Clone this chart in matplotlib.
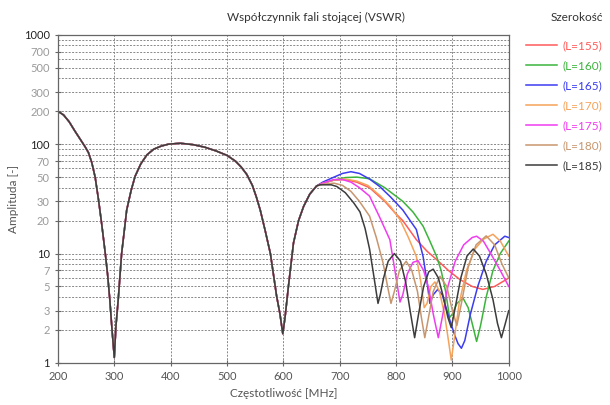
import matplotlib
matplotlib.use("Agg")
import matplotlib.pyplot as plt
import numpy as np

# common part (all widths overlap)
f_common = [200, 210, 220, 230, 240, 248, 254, 260, 266, 272, 278, 284, 288, 292, 296, 300, 303, 307,
            313, 317, 322, 330, 337, 347, 358, 370, 383, 396, 417, 440, 460, 480, 500, 515, 525, 535,
            545, 552, 559, 568, 577, 588, 594, 599, 603, 609, 618, 627, 636, 647, 659]
v_common = [200, 185, 160, 132, 110, 95, 84, 68, 50, 31, 18, 10, 6.5, 3.8, 2.0, 1.12, 2.2, 3.8,
            10, 15, 25, 38, 51, 66, 80, 90, 96, 100, 102, 99, 94, 87, 79, 70, 62, 53,
            42, 33, 25, 16, 10, 4.1, 2.8, 1.85, 2.6, 5, 12.5, 20, 27, 35, 41.5]

labels = ["(L=155)", "(L=160)", "(L=165)", "(L=170)", "(L=175)", "(L=180)", "(L=185)"]
colors = ["#ff5a5a", "#3cb43c", "#3c3cf0", "#f5a35a", "#f03cf0", "#c8966e", "#3c3c3c"]

f_155 = [670, 690, 710, 730, 753, 780, 800, 812, 836, 855, 872, 893, 913, 935, 954, 975, 996, 1000]
v_155 = [44, 47, 47.5, 45, 40, 30, 23, 20, 13.4, 10.5, 8.8, 7, 5.8, 5.0, 4.7, 5, 5.8, 6]

f_160 = [670, 690, 710, 730, 753, 780, 812, 830, 848, 860, 872, 880, 888, 895, 900, 908, 919, 928,
         936, 943, 950, 960, 972, 985, 1000]
v_160 = [44, 47, 49.5, 50, 48.3, 40, 30, 24, 17.8, 13, 9.4, 7, 4.5, 2.6, 2.8, 3.5, 3.9, 3.2,
         2.2, 1.57, 2.2, 4, 7, 10, 13]

f_165 = [670, 690, 705, 720, 735, 753, 771, 790, 812, 825, 836, 848, 855, 860, 866, 874, 882, 892,
         904, 910, 916, 922, 932, 945, 960, 975, 993, 1000]
v_165 = [45, 50, 54, 56, 54, 48, 41, 33, 25, 20, 16.6, 9.4, 5.5, 3.5, 4.2, 4.7, 4.2, 2.8,
         1.8, 1.5, 1.36, 1.6, 2.8, 5, 8.5, 12, 14.4, 14]

f_170 = [670, 690, 710, 730, 750, 771, 790, 807, 822, 836, 844, 850, 855, 862, 869, 877, 886, 893,
         898, 903, 912, 925, 940, 955, 972, 985, 1000]
v_170 = [44, 47, 48, 46, 42, 34, 27, 20.4, 14, 9.4, 5.5, 3.2, 3.5, 5, 5.5, 4.5, 2.8, 1.6,
         1.06, 1.6, 3.5, 7, 11, 13.5, 15, 13, 9.5]

f_175 = [670, 690, 705, 720, 735, 753, 770, 789, 798, 804, 807, 812, 820, 830, 839, 849, 858, 866,
         875, 882, 892, 905, 920, 935, 943, 955, 968, 985, 1000]
v_175 = [44, 47.5, 47.5, 45, 40, 33.5, 22, 13.4, 7, 4.5, 3.6, 4.2, 6.5, 8.3, 8.6, 7, 4.8, 2.8,
         1.7, 2.6, 5, 8.5, 12, 14, 14.4, 13, 10, 7, 5]

f_180 = [670, 690, 705, 720, 735, 753, 765, 777, 785, 791, 797, 806, 818, 828, 838, 845, 851, 857,
         866, 878, 890, 900, 908, 916, 928, 942, 960, 975, 988, 1000]
v_180 = [43, 44, 42, 37, 30, 22, 14, 8.2, 5, 3.5, 4.5, 7, 8.5, 7, 4.5, 2.6, 1.7, 2.5,
         4.5, 6.2, 5, 3, 2.2, 3.5, 7.5, 12, 14.5, 12, 8, 6]

f_185 = [665, 675, 685, 695, 710, 725, 736, 745, 753, 760, 765, 768, 772, 778, 786, 797, 808, 817,
         825, 833, 840, 849, 858, 866, 875, 884, 892, 898, 905, 915, 926, 937, 948, 960, 972, 980,
         987, 994, 1000]
v_185 = [42.5, 42.5, 42.5, 41, 36, 29, 24, 17, 11, 6.5, 4.4, 3.5, 4.2, 6, 8.5, 10, 8.5, 5.5,
         3, 1.7, 2.8, 5, 6.8, 7.2, 6, 4, 2.6, 2.1, 3.2, 6, 9.5, 11, 9.5, 6.5, 3.8, 2.3,
         1.7, 2.3, 3.0]

tails = [(f_155, v_155), (f_160, v_160), (f_165, v_165), (f_170, v_170),
         (f_175, v_175), (f_180, v_180), (f_185, v_185)]

x_ticks = [200, 300, 400, 500, 600, 700, 800, 900, 1000]
y_ticks = [1, 2, 3, 5, 7, 10, 20, 30, 50, 70, 100, 200, 300, 500, 700, 1000]

plt.rcParams['font.family'] = ['Lato', 'DejaVu Sans']
fig = plt.figure(figsize=(6.1, 4.05), dpi=100)
ax = fig.add_axes([0.095, 0.104, 0.739, 0.810])

handles = []
for (ft, vt), lab, col in zip(tails, labels, colors):
    ff = f_common + ft
    vv = v_common + vt
    h, = ax.plot(ff, vv, color=col, lw=1.1, label=lab)
    handles.append(h)

ax.set_yscale('log')
ax.set_xlim(200, 1000)
ax.set_ylim(1, 1000)
ax.set_xticks(x_ticks)
ax.set_xticklabels([str(t) for t in x_ticks])
ax.set_yticks(y_ticks)
ax.set_yticklabels([str(t) for t in y_ticks])
ax.yaxis.set_minor_locator(matplotlib.ticker.LogLocator(base=10, subs=np.arange(2, 10)))
ax.yaxis.set_minor_formatter(matplotlib.ticker.NullFormatter())
for lbl, t in zip(ax.get_yticklabels(), y_ticks):
    if t in (1, 10, 100, 1000):
        lbl.set_color('#222222')
    else:
        lbl.set_color('#9a9a9a')
for lbl in ax.get_xticklabels():
    lbl.set_color('#555555')

ax.tick_params(axis='both', which='major', labelsize=8, direction='inout', length=5, color='#666666', width=0.8)
ax.tick_params(axis='y', which='minor', length=0)
ax.grid(True, which='both', axis='y', linestyle=(0, (2, 1.5)), color='#888888', lw=0.7)
ax.grid(True, which='major', axis='x', linestyle=(0, (2, 1.5)), color='#888888', lw=0.7)
for s in ax.spines.values():
    s.set_color('#666666')
    s.set_linewidth(0.9)

fig.text(0.518, 0.958, 'Współczynnik fali stojącej (VSWR)', fontsize=8.5, color='#333333',
         ha='center', va='center')
ax.set_xlabel('Częstotliwość [MHz]', fontsize=8.5, color='#555555', labelpad=4)
ax.set_ylabel('Amplituda [-]', fontsize=8.5, color='#555555', labelpad=3)

leg = fig.legend(handles=handles, labels=labels, loc='upper left', bbox_to_anchor=(0.845, 0.927),
                 frameon=False, fontsize=8.5, handlelength=2.6, labelspacing=0.76, handletextpad=0.5)
for txt, col in zip(leg.get_texts(), colors):
    txt.set_color(col)
fig.text(0.945, 0.958, 'Szerokość', fontsize=8.5, color='#333333', ha='center', va='center')

fig.savefig('out.png', dpi=100)
